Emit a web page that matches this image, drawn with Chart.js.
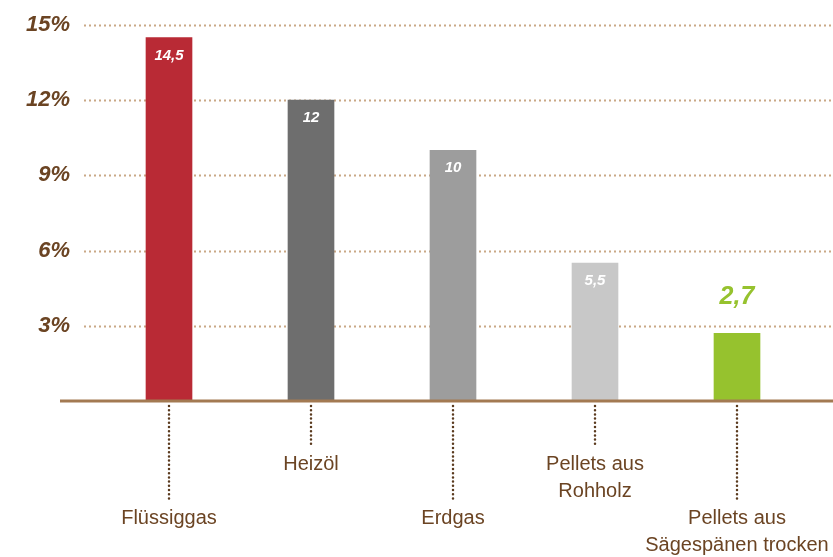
<!DOCTYPE html>
<html>
<head>
<meta charset="utf-8">
<script src="https://cdn.jsdelivr.net/npm/chart.js@4.4.1/dist/chart.umd.min.js"></script>
<style>
  html, body { margin: 0; padding: 0; background: #fff; }
  #wrap { width: 833px; height: 557px; position: relative; }
</style>
</head>
<body>
<div id="wrap"><canvas id="chart"></canvas></div>
<script>
const categories = ["Flüssiggas", "Heizöl", "Erdgas", ["Pellets aus", "Rohholz"], ["Pellets aus", "Sägespänen trocken"]];
const labelDrop = [2, 0, 2, 0, 2];
const values = [14.5, 12, 10, 5.5, 2.7];
const valueLabels = ["14,5", "12", "10", "5,5", "2,7"];
const barColors = ["#b92a35", "#6e6e6e", "#9d9d9d", "#c8c8c8", "#96c22e"];
const yTicks = [3, 6, 9, 12, 15];

const BROWN = "#6b4423";
const LINE_H = 27;
const LABEL_PAD = 50;

// multi-line tick labels, blank lines push every other label down
const tickLabels = categories.map((c, i) => Array(labelDrop[i]).fill("").concat(c));

const decoPlugin = {
  id: "deco",
  beforeDatasetsDraw(chart) {
    const { ctx, scales: { y } } = chart;
    ctx.save();
    ctx.strokeStyle = "#c9a886";
    ctx.lineWidth = 2;
    ctx.setLineDash([2, 3]);
    yTicks.forEach(t => {
      const py = Math.round(y.getPixelForValue(t)) + 0.5;
      ctx.beginPath();
      ctx.moveTo(84, py);
      ctx.lineTo(chart.width, py);
      ctx.stroke();
    });
    ctx.restore();
  },
  afterDatasetsDraw(chart) {
    const { ctx, chartArea, scales: { x, y } } = chart;
    ctx.save();
    // baseline
    const base = y.getPixelForValue(0);
    ctx.strokeStyle = "#a37a52";
    ctx.lineWidth = 3;
    ctx.beginPath();
    ctx.moveTo(60, base);
    ctx.lineTo(chart.width, base);
    ctx.stroke();

    // leader lines
    ctx.strokeStyle = "#5a3a1e";
    ctx.lineWidth = 2.5;
    ctx.lineCap = "round";
    ctx.setLineDash([0, 4.2]);
    categories.forEach((c, i) => {
      const px = Math.round(x.getPixelForValue(i));
      ctx.beginPath();
      ctx.moveTo(px, base + 5);
      ctx.lineTo(px, chartArea.bottom + LABEL_PAD - 6 + labelDrop[i] * LINE_H);
      ctx.stroke();
    });
    ctx.setLineDash([]);

    // value labels
    const meta = chart.getDatasetMeta(0);
    ctx.textAlign = "center";
    ctx.textBaseline = "middle";
    meta.data.forEach((bar, i) => {
      if (i === values.length - 1) {
        ctx.fillStyle = barColors[i];
        ctx.font = "italic bold 25px 'Liberation Sans', sans-serif";
        ctx.fillText(valueLabels[i], bar.x, bar.y - 36);
      } else {
        ctx.fillStyle = "#ffffff";
        ctx.font = "italic bold 15px 'Liberation Sans', sans-serif";
        ctx.fillText(valueLabels[i], bar.x, bar.y + 18);
      }
    });
    ctx.restore();
  }
};

new Chart(document.getElementById("chart"), {
  type: "bar",
  data: {
    labels: tickLabels,
    datasets: [{
      data: values,
      backgroundColor: barColors,
      borderWidth: 0,
      barThickness: 46
    }]
  },
  options: {
    responsive: true,
    maintainAspectRatio: false,
    animation: false,
    layout: { padding: { top: 25, right: 25, left: 0, bottom: 0 } },
    plugins: {
      legend: { display: false },
      tooltip: { enabled: false }
    },
    scales: {
      x: {
        afterFit: s => {
          s.height = 156;
          s.paddingLeft = 0;
          s.paddingRight = 0;
        },
        grid: { display: false, drawTicks: false },
        border: { display: false },
        ticks: {
          padding: LABEL_PAD,
          color: BROWN,
          maxRotation: 0,
          autoSkip: false,
          font: { family: "'Liberation Sans', Arial, sans-serif", size: 20, lineHeight: LINE_H + "px" }
        }
      },
      y: {
        min: 0,
        max: 15,
        afterFit: s => {
          s.width = 98;
          s.paddingTop = 0;
          s.paddingBottom = 0;
        },
        grid: { display: false, drawTicks: false },
        border: { display: false },
        ticks: {
          stepSize: 3,
          padding: 28,
          color: BROWN,
          callback: v => (v === 0 ? "" : v + "%"),
          font: { family: "'Liberation Sans', sans-serif", size: 22, style: "italic", weight: "bold" }
        }
      }
    }
  },
  plugins: [decoPlugin]
});
</script>
</body>
</html>
